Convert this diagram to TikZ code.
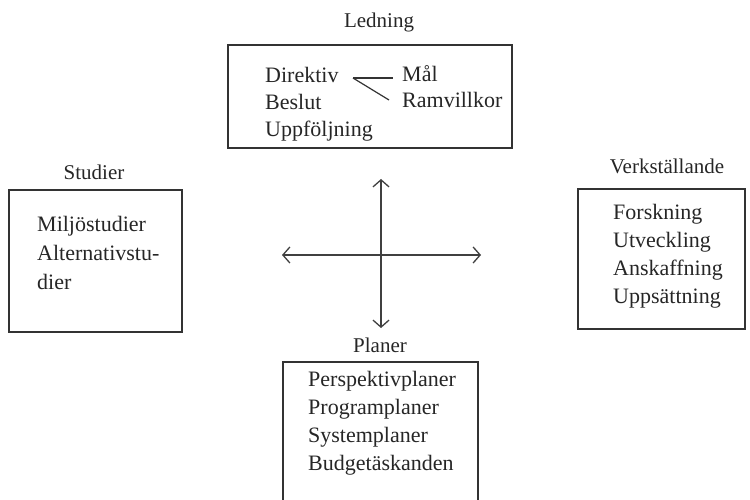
\documentclass[tikz,border=0pt]{standalone}
\usepackage{fontspec}
\setmainfont{Liberation Serif}
\usetikzlibrary{arrows.meta}
\begin{document}
\begin{tikzpicture}[x=1pt,y=-1pt,
  box/.style={draw=black!80,line width=2pt,minimum width=#1,inner sep=0pt},
  txt/.style={anchor=base west,inner sep=0pt,font=\fontsize{22}{26}\selectfont,text=black!85},
  ttl/.style={anchor=base,inner sep=0pt,font=\fontsize{21}{25}\selectfont,text=black!85},
  arr/.style={draw=black!75,line width=1.3pt,{Straight Barb[length=7pt,width=16pt]}-{Straight Barb[length=7pt,width=16pt]}},
  thin/.style={draw=black!80,line width=1.2pt}]
\useasboundingbox (0,0) rectangle (750,500);
% boxes
\node[box=284pt,minimum height=103pt] (bl) at (370,96.5) {};
\node[box=173pt,minimum height=142pt] (bs) at (95.5,261) {};
\node[box=167pt,minimum height=140pt] (bv) at (661.5,259) {};
\node[box=195pt,minimum height=142pt] (bp) at (380.5,433) {};
% titles
\node[ttl] (tl) at (379,28) {Ledning};
\node[ttl] (ts) at (94,179) {Studier};
\node[ttl] (tv) at (667,174) {Verkställande};
\node[ttl] (tp) at (380,352) {Planer};
% Ledning
\node[txt] (dir) at (265,83) {Direktiv};
\node[txt] (bes) at (265,110) {Beslut};
\node[txt] (upp) at (265,137) {Uppföljning};
\node[txt] (mal) at (402,82) {Mål};
\node[txt] (ram) at (402,108) {Ramvillkor};
\coordinate (j) at (353,78);
\draw[thin] (j) -- (393,78);
\draw[thin] (j) -- (389,100);
% Studier
\node[txt] (s1) at (37,231) {Miljöstudier};
\node[txt] (s2) at (37,260) {Alternativstu-};
\node[txt] (s3) at (37,289) {dier};
% Verkställande
\node[txt] (v1) at (613,219) {Forskning};
\node[txt] (v2) at (613,247) {Utveckling};
\node[txt] (v3) at (613,275) {Anskaffning};
\node[txt] (v4) at (613,303) {Uppsättning};
% Planer
\node[txt] (p1) at (308,386) {Perspektivplaner};
\node[txt] (p2) at (308,414) {Programplaner};
\node[txt] (p3) at (308,442) {Systemplaner};
\node[txt] (p4) at (308,470) {Budgetäskanden};
% cross
\coordinate (ct) at (381,179);
\coordinate (cb) at (381,328);
\coordinate (cl) at (282,255);
\coordinate (cr) at (481,255);
\draw[arr] (ct) -- (cb);
\draw[arr] (cl) -- (cr);
\end{tikzpicture}
\end{document}
